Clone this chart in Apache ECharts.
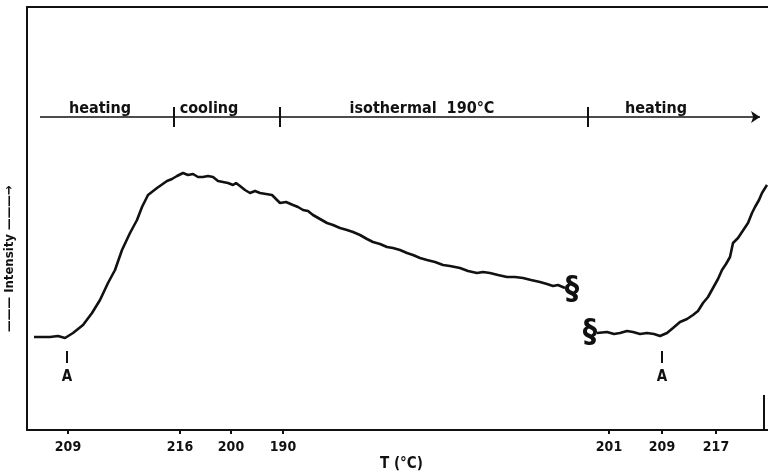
<!DOCTYPE html>
<html>
<head>
<meta charset="utf-8">
<script src="https://cdn.jsdelivr.net/npm/echarts@6/dist/echarts.min.js"></script>
<style>
  html, body { margin: 0; padding: 0; background: #fff; }
  #chart { width: 768px; height: 475px; }
</style>
</head>
<body>
<div id="chart"></div>
<script>
  // time axis in arbitrary units, intensity in arbitrary units
  const heatCoolIso = [
    [7, 93], [23, 93], [31, 94], [38, 92], [46, 97], [56, 105], [65, 117], [73, 130], [81, 147],
    [88, 160], [95, 180], [103, 197], [110, 210], [115, 223], [121, 235], [130, 242], [140, 249],
    [145, 251], [150, 254], [156, 257], [161, 255], [166, 256], [171, 253], [176, 253], [181, 254],
    [186, 253], [191, 249], [196, 248], [201, 247], [206, 245], [209, 247], [213, 244], [218, 240],
    [223, 237], [228, 239], [233, 237], [239, 236], [245, 235], [253, 227], [259, 228], [266, 225],
    [271, 223], [276, 220], [281, 219], [286, 215], [293, 211], [300, 207], [306, 205], [313, 202],
    [320, 200], [326, 198], [333, 195], [340, 191], [346, 188], [353, 186], [360, 183], [366, 182],
    [373, 180], [380, 177], [386, 175], [393, 172], [400, 170], [408, 168], [416, 165], [423, 164],
    [433, 162], [441, 159], [450, 157], [456, 158], [463, 157], [471, 155], [480, 153], [488, 153],
    [496, 152], [504, 150], [513, 148], [520, 146], [526, 144], [531, 145], [538, 142]
  ]
  const reheat = [
    [570, 97], [580, 98], [587, 96], [593, 97], [600, 99], [606, 98], [613, 96], [620, 97], [627, 96],
    [633, 94], [640, 97], [646, 102], [653, 108], [660, 111], [666, 115], [671, 119], [676, 127],
    [681, 133], [686, 142], [691, 151], [695, 160], [699, 166], [703, 173], [706, 187], [711, 192],
    [715, 198], [721, 207], [725, 217], [728, 223], [732, 230], [735, 237], [740, 245]
  ]
  const breakMarks = [[545, 140], [563, 97]]
  const pointA = [[40, 73], [635, 73]]

  const tickPos = [41, 153, 204, 256, 582, 635, 689]
  const tickLabels = ['209', '216', '200', '190', '201', '209', '217']

  const phaseY = 313
  const phaseBounds = [13, 147, 253, 561, 733]
  const phaseNames = ['heating', 'cooling', 'isothermal  190°C', 'heating']
  const phaseLabelX = [73, 182, 395, 629]

  const font = "'DejaVu Sans Condensed', 'DejaVu Sans', sans-serif"
  const ink = '#111'

  const chart = echarts.init(document.getElementById('chart'))

  const labelText = (size) => ({
    color: ink,
    fontSize: size,
    fontWeight: 'bold',
    fontFamily: font,
  })

  chart.setOption({
    animation: false,
    backgroundColor: '#fff',
    grid: { left: 27, right: 0, top: 7, bottom: 45 },
    xAxis: [
      {
        type: 'value',
        min: 0,
        max: 741,
        splitLine: { show: false },
        axisLine: { show: true, lineStyle: { color: ink, width: 2 } },
        axisTick: {
          show: true,
          customValues: tickPos,
          length: 4,
          lineStyle: { color: ink, width: 2 },
        },
        axisLabel: {
          customValues: tickPos,
          ...labelText(14),
          margin: 10,
          formatter: (v) => tickLabels[tickPos.indexOf(v)] ?? '',
        },
      },
      {
        type: 'value',
        position: 'top',
        min: 0,
        max: 741,
        splitLine: { show: false },
        axisLine: { show: true, lineStyle: { color: ink, width: 2 } },
        axisTick: { show: false },
        axisLabel: { show: false },
      },
    ],
    yAxis: {
      type: 'value',
      min: 0,
      max: 423,
      splitLine: { show: false },
      axisLine: { show: true, lineStyle: { color: ink, width: 2 } },
      axisTick: { show: false },
      axisLabel: { show: false },
    },
    series: [
      {
        type: 'line',
        data: heatCoolIso,
        showSymbol: false,
        lineStyle: { color: ink, width: 2.6 },
      },
      {
        type: 'line',
        data: reheat,
        showSymbol: false,
        lineStyle: { color: ink, width: 2.6 },
      },
      {
        type: 'scatter',
        data: breakMarks,
        symbolSize: 0,
        itemStyle: { opacity: 1 },
        label: { show: true, position: 'inside', formatter: '§', ...labelText(32) },
      },
      {
        type: 'scatter',
        data: pointA,
        symbol: 'rect',
        symbolSize: [2, 12],
        itemStyle: { color: ink, opacity: 1 },
        label: { show: true, position: 'bottom', distance: 7, formatter: 'A', ...labelText(15) },
      },
      {
        type: 'lines',
        coordinateSystem: 'cartesian2d',
        symbol: ['none', 'arrow'],
        symbolSize: 9,
        lineStyle: { color: ink, width: 1.5, opacity: 1 },
        data: [{ coords: [[phaseBounds[0], phaseY], [phaseBounds[4], phaseY]] }],
      },
      {
        type: 'scatter',
        data: phaseBounds.slice(1, 4).map((x) => [x, phaseY]),
        symbol: 'rect',
        symbolSize: [2, 20],
        itemStyle: { color: ink, opacity: 1 },
      },
      {
        type: 'scatter',
        data: phaseLabelX.map((x, i) => [x, phaseY, phaseNames[i]]),
        symbolSize: 0,
        itemStyle: { opacity: 1 },
        label: {
          show: true,
          position: 'top',
          distance: 0,
          formatter: (p) => p.value[2],
          ...labelText(16),
        },
      },
    ],
    graphic: [
      {
        type: 'text',
        rotation: Math.PI / 2,
        x: 3,
        y: 332,
        style: {
          text: '——— Intensity ———→',
          fill: ink,
          font: `bold 13px ${font}`,
        },
      },
      {
        type: 'text',
        x: 380,
        y: 457,
        style: { text: 'T (°C)', fill: ink, font: `bold 15px ${font}` },
      },
      {
        type: 'line',
        shape: { x1: 764, y1: 395, x2: 764, y2: 430 },
        style: { stroke: ink, lineWidth: 2 },
      },
    ],
  })
</script>
</body>
</html>
